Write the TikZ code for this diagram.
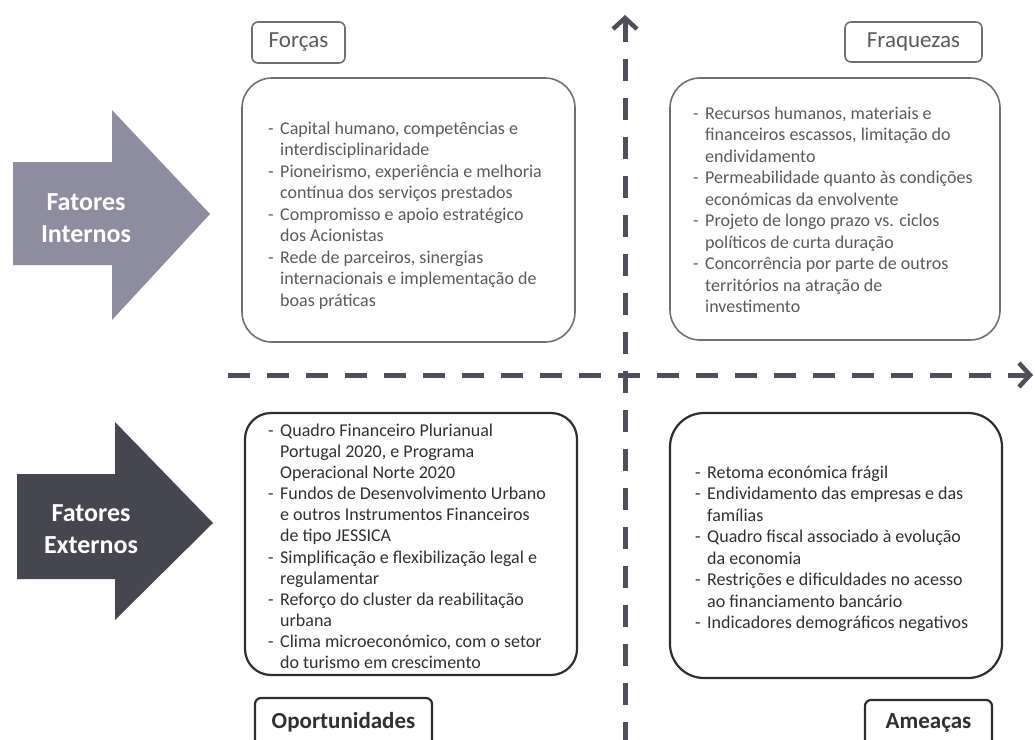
\documentclass[tikz,border=0pt]{standalone}
\usepackage{fontspec}
\setmainfont{Carlito}
\usetikzlibrary{arrows.meta}

\definecolor{internfill}{HTML}{8E8CA0}
\definecolor{externfill}{HTML}{45464F}
\definecolor{axiscol}{HTML}{4D4F5B}
\definecolor{softline}{HTML}{707070}
\definecolor{softtext}{HTML}{5A5A5A}
\definecolor{darkline}{HTML}{2E2E2E}
\definecolor{darktext}{HTML}{303030}

\newcommand{\itm}{\llap{-\hspace{6.5pt}}}

% list nodes are anchored at the baseline of their last line
\tikzset{
  softbox/.style={draw=softline, line width=1.6pt, rounded corners=30pt, inner sep=0pt},
  hardbox/.style={draw=darkline, line width=2.2pt, rounded corners=30pt, inner sep=0pt},
  softtag/.style={draw=softline, line width=1.6pt, rounded corners=6pt, inner sep=0pt,
    text=softtext, font=\fontsize{23}{27}\selectfont},
  hardtag/.style={draw=darkline, line width=2.2pt, rounded corners=6pt, inner sep=0pt,
    text=darktext, font=\bfseries\fontsize{23}{27}\selectfont},
  softlist/.style={anchor=base west, align=left, inner sep=0pt, text=softtext,
    font=\fontsize{18}{21.5}\selectfont},
  hardlist/.style={anchor=base west, align=left, inner sep=0pt, text=darktext,
    font=\fontsize{18}{21.5}\selectfont},
  factorlabel/.style={align=center, inner sep=0pt, text=white,
    font=\bfseries\fontsize{26}{32}\selectfont},
  axis/.style={draw=axiscol, line width=5pt, dash pattern=on 22pt off 17pt},
  axistip/.tip={Straight Barb[length=11pt, width=24pt, line width=4.5pt]},
}

\begin{document}
\begin{tikzpicture}[x=1pt, y=-1pt]
\useasboundingbox (0,0) rectangle (1035,739);
\clip (0,0) rectangle (1035,739);

% factor arrows on the left
\fill[internfill] (13,162) -- (112,162) -- (112,110) -- (210,214) -- (112,320)
  -- (112,265) -- (13,265) -- cycle;
\node[factorlabel] (internos) at (86,218) {Fatores\\Internos};

\fill[externfill] (17,474) -- (115,474) -- (115,422) -- (213,523) -- (115,620)
  -- (115,579) -- (17,579) -- cycle;
\node[factorlabel] (externos) at (91,529) {Fatores\\Externos};

% axes
\coordinate (vtop) at (625,15);
\coordinate (vbot) at (625,745);
\coordinate (hleft) at (228,375);
\coordinate (hright) at (1033,375);
\draw[axis, axistip-] (vtop) -- (vbot);
\draw[axis, -axistip] (hleft) -- (hright);

% quadrant tags
\node[softtag, minimum width=93pt, minimum height=41pt] (forcastag) at (298.5,42.5) {Forças};
\node[softtag, minimum width=137pt, minimum height=40pt] (fraqtag) at (913.5,42) {Fraquezas};
\node[hardtag, minimum width=177pt, minimum height=48pt] (oporttag) at (343.5,722) {Oportunidades};
\node[hardtag, minimum width=127pt, minimum height=46pt] (ameactag) at (928.5,723) {Ameaças};

% quadrant boxes
\node[softbox, minimum width=333pt, minimum height=264pt] (forcasbox) at (408.5,210) {};
\node[softbox, minimum width=330pt, minimum height=262pt] (fraqbox) at (835,209) {};
\node[hardbox, rounded corners=26pt, minimum width=332pt, minimum height=262pt] (oportbox) at (411,544) {};
\node[hardbox, rounded corners=34pt, minimum width=332pt, minimum height=265pt] (ameacbox) at (836,545.5) {};

% quadrant contents
\node[softlist] (forcastxt) at (280,306) {%
\itm Capital humano, competências e\\
interdisciplinaridade\\
\itm Pioneirismo, experiência e melhoria\\
contínua dos serviços prestados\\
\itm Compromisso e apoio estratégico\\
dos Acionistas\\
\itm Rede de parceiros, sinergias\\
internacionais e implementação de\\
boas práticas};

\node[softlist] (fraqtxt) at (705,312.5) {%
\itm Recursos humanos, materiais e\\
financeiros escassos, limitação do\\
endividamento\\
\itm Permeabilidade quanto às condições\\
económicas da envolvente\\
\itm Projeto de longo prazo vs. ciclos\\
políticos de curta duração\\
\itm Concorrência por parte de outros\\
territórios na atração de\\
investimento};

\node[hardlist, font=\fontsize{18}{21.1}\selectfont] (oporttxt) at (280,668.5) {%
\itm Quadro Financeiro Plurianual\\
Portugal 2020, e Programa\\
Operacional Norte 2020\\
\itm Fundos de Desenvolvimento Urbano\\
e outros Instrumentos Financeiros\\
de tipo JESSICA\\
\itm Simplificação e flexibilização legal e\\
regulamentar\\
\itm Reforço do cluster da reabilitação\\
urbana\\
\itm Clima microeconómico, com o setor\\
do turismo em crescimento};

\node[hardlist] (ameactxt) at (707,628.5) {%
\itm Retoma económica frágil\\
\itm Endividamento das empresas e das\\
famílias\\
\itm Quadro fiscal associado à evolução\\
da economia\\
\itm Restrições e dificuldades no acesso\\
ao financiamento bancário\\
\itm Indicadores demográficos negativos};
\end{tikzpicture}
\end{document}
